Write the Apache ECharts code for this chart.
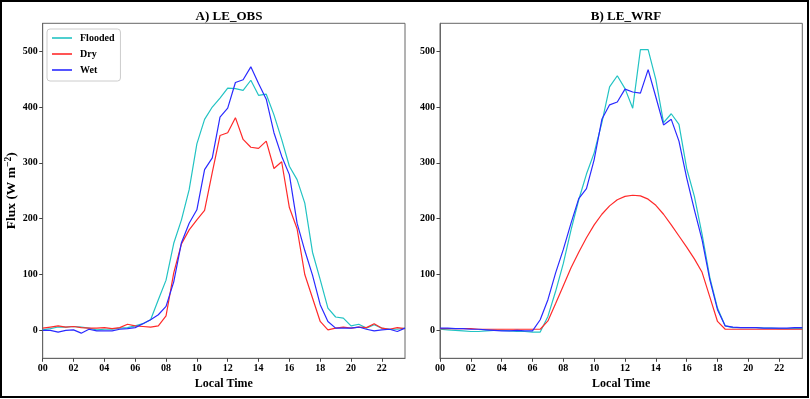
<!DOCTYPE html>
<html>
<head>
<meta charset="utf-8">
<script src="https://cdn.jsdelivr.net/npm/echarts@6/dist/echarts.min.js"></script>
<style>
  html, body { margin: 0; padding: 0; background: #fff; }
  #chart { width: 810px; height: 399px; }
</style>
</head>
<body>
<div id="chart"></div>
<script>
// half-hourly local time, 00:00 .. 23:30
const hours = [0, 0.5, 1, 1.5, 2, 2.5, 3, 3.5, 4, 4.5, 5, 5.5, 6, 6.5, 7, 7.5, 8, 8.5, 9, 9.5, 10, 10.5, 11, 11.5,
  12, 12.5, 13, 13.5, 14, 14.5, 15, 15.5, 16, 16.5, 17, 17.5, 18, 18.5, 19, 19.5, 20, 20.5, 21, 21.5, 22, 22.5, 23, 23.5];

const xTicks = [0, 2, 4, 6, 8, 10, 12, 14, 16, 18, 20, 22];
const yTicks = [0, 100, 200, 300, 400, 500];

// A) LE_OBS
const obsFlooded = [1, 3, 6, 6, 7, 6, 4, 1, 2, 2, 4, 5, 8, 12, 19, 55, 90, 156, 198, 252, 334, 378, 400, 416,
  434, 433, 430, 448, 421, 423, 386, 342, 294, 270, 228, 140, 91, 40, 24, 22, 8, 11, 4, 10, 4, 2, 2, 4];
const obsDry = [4, 6, 8, 6, 7, 5, 4, 4, 5, 3, 5, 11, 8, 7, 6, 8, 26, 103, 155, 180, 198, 215, 283, 349,
  354, 381, 342, 328, 326, 339, 290, 302, 220, 182, 100, 58, 16, 1, 4, 6, 4, 6, 5, 12, 4, 2, 5, 3];
const obsWet = [0, 0, -3, 0, 1, -5, 2, -1, -1, -1, 2, 3, 5, 12, 19, 28, 43, 87, 157, 192, 216, 288, 309, 382,
  398, 444, 449, 472, 442, 414, 354, 312, 279, 192, 143, 99, 46, 16, 4, 4, 4, 6, 2, -1, 1, 2, -2, 4];

// B) LE_WRF
const wrfFlooded = [2, 1, 0, -1, -2, -2, -1, 0, 0, -1, -2, -2, -3, -3, 25, 70, 120, 180, 234, 280, 318, 372, 436, 456,
  433, 398, 503, 503, 449, 372, 388, 369, 290, 240, 172, 95, 40, 8, 5, 5, 5, 5, 4, 4, 3, 3, 3, 3];
const wrfDry = [3, 3, 3, 3, 3, 2, 2, 2, 2, 2, 2, 2, 2, 2, 17, 48, 80, 112, 140, 166, 189, 208, 223, 234,
  240, 242, 241, 235, 224, 208, 189, 169, 149, 128, 104, 60, 16, 2, 2, 2, 2, 2, 2, 2, 2, 2, 2, 2];
const wrfWet = [4, 4, 3, 3, 2, 2, 1, 0, -1, -1, 0, -1, -1, 19, 55, 103, 145, 192, 236, 254, 306, 378, 404, 409,
  432, 427, 425, 467, 418, 368, 378, 339, 273, 216, 162, 91, 37, 8, 6, 5, 5, 5, 4, 4, 4, 4, 5, 5];

const font = 'Liberation Serif';
const colors = { Flooded: '#22c3c3', Dry: '#ff2a2a', Wet: '#2a2aff' };

function pairs(values) {
  return hours.map((h, i) => [h, values[i]]);
}

function pad2(v) {
  return (v < 10 ? '0' : '') + v;
}

function xAxisFor(gridIndex) {
  return {
    type: 'value', gridIndex: gridIndex, min: 0, max: 23.5,
    name: 'Local Time', nameLocation: 'middle', nameGap: 18,
    nameTextStyle: { fontFamily: font, fontWeight: 'bold', fontSize: 12, color: '#000' },
    splitLine: { show: false },
    axisLine: { onZero: false, lineStyle: { color: '#666', width: 1 } },
    axisTick: { length: 3.5, customValues: xTicks, lineStyle: { color: '#444' } },
    axisLabel: {
      customValues: xTicks, margin: 5,
      fontFamily: font, fontWeight: 'bold', fontSize: 10, color: '#000',
      formatter: pad2
    }
  };
}

function yAxisFor(gridIndex, name) {
  return {
    type: 'value', gridIndex: gridIndex, min: -50, max: 550,
    name: name, nameLocation: 'middle', nameGap: 23, nameRotate: 90,
    nameTextStyle: {
      fontFamily: font, fontWeight: 'bold', fontSize: 13.5, color: '#000',
      rich: {
        sup: { fontFamily: font, fontWeight: 'bold', fontSize: 9.5, color: '#000', verticalAlign: 'bottom', padding: [0, 0, 6, 0] }
      }
    },
    splitLine: { show: false },
    axisLine: { show: true, onZero: false, lineStyle: { color: '#666', width: 1 } },
    axisTick: { show: true, length: 3.5, customValues: yTicks, lineStyle: { color: '#444' } },
    axisLabel: {
      customValues: yTicks, margin: 5,
      fontFamily: font, fontWeight: 'bold', fontSize: 10, color: '#000'
    }
  };
}

function lineSeries(name, values, idx) {
  return {
    name: name, type: 'line', xAxisIndex: idx, yAxisIndex: idx,
    data: pairs(values), symbol: 'none', silent: true, animation: false,
    lineStyle: { color: colors[name], width: 1.2 },
    itemStyle: { color: colors[name] }
  };
}

const chart = echarts.init(document.getElementById('chart'), null, { renderer: 'canvas' });
chart.setOption({
  backgroundColor: '#fff',
  animation: false,
  title: [
    { text: 'A) LE_OBS', left: 224, top: 5, textAlign: 'center',
      textStyle: { fontFamily: font, fontWeight: 'bold', fontSize: 13, color: '#000' } },
    { text: 'B) LE_WRF', left: 621, top: 5, textAlign: 'center',
      textStyle: { fontFamily: font, fontWeight: 'bold', fontSize: 13, color: '#000' } }
  ],
  legend: {
    data: ['Flooded', 'Dry', 'Wet'],
    orient: 'vertical', left: 47, top: 29,
    icon: 'rect', itemWidth: 20, itemHeight: 1.6, itemGap: 6,
    padding: [4, 6, 6, 5],
    backgroundColor: '#fff', borderColor: '#ccc', borderWidth: 1, borderRadius: 3,
    textStyle: { fontFamily: font, fontWeight: 'bold', fontSize: 10, lineHeight: 10, color: '#000', padding: [0, 0, 0, 3] },
    selectedMode: false
  },
  grid: [
    { left: 42.7, right: 405, top: 23.3, bottom: 40.7, outerBoundsMode: 'none',
      show: true, borderColor: '#666', borderWidth: 1, backgroundColor: '#fff' },
    { left: 440, right: 7.7, top: 23.3, bottom: 40.7, outerBoundsMode: 'none',
      show: true, borderColor: '#666', borderWidth: 1, backgroundColor: '#fff' }
  ],
  xAxis: [xAxisFor(0), xAxisFor(1)],
  yAxis: [yAxisFor(0, 'Flux (W m{sup|\u22122})'), yAxisFor(1, '')],
  graphic: [{
    type: 'rect', silent: true, z: 100,
    shape: { x: 1, y: 1, width: 807, height: 396 },
    style: { fill: 'none', stroke: '#000', lineWidth: 2 }
  }],
  series: [
    lineSeries('Flooded', obsFlooded, 0),
    lineSeries('Dry', obsDry, 0),
    lineSeries('Wet', obsWet, 0),
    lineSeries('Flooded', wrfFlooded, 1),
    lineSeries('Dry', wrfDry, 1),
    lineSeries('Wet', wrfWet, 1)
  ]
});
</script>
</body>
</html>
